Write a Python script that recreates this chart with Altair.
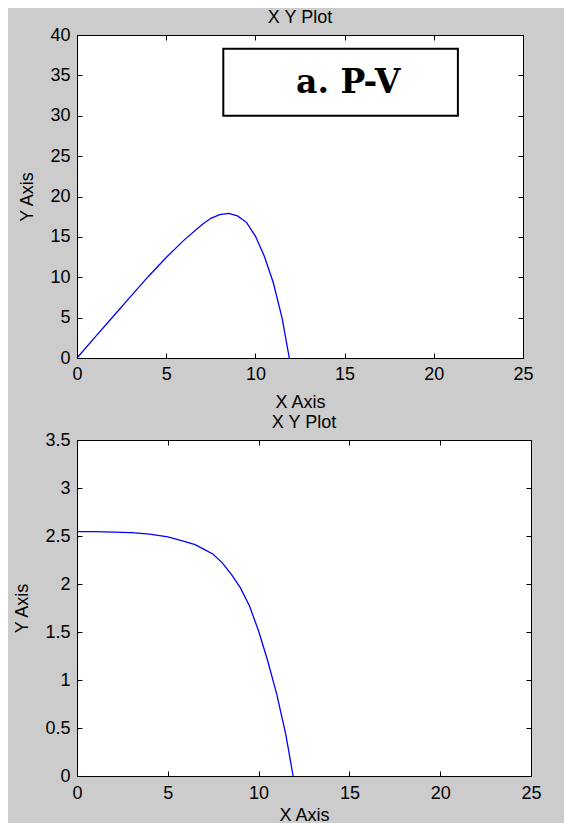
import altair as alt
import pandas as pd

# ---------------- data ----------------
x_ticks = [0, 5, 10, 15, 20, 25]
top_y_ticks = [0, 5, 10, 15, 20, 25, 30, 35, 40]
bot_y_ticks = [0, 0.5, 1, 1.5, 2, 2.5, 3, 3.5]

# Top panel: P-V curve
pv_v = [0, 1, 2, 3, 4, 5, 6, 7, 7.5, 8, 8.5, 9, 9.5, 10, 10.5, 11, 11.5, 11.9]
pv_p = [0, 2.55, 5.08, 7.6, 10.1, 12.45, 14.6, 16.5, 17.3, 17.75, 17.9, 17.6, 16.8, 15.1, 12.6, 9.35, 4.9, 0]

# Bottom panel: I-V curve
iv_v = [0, 1, 2, 3, 4, 5, 5.5, 6, 6.5, 7, 7.5, 8, 8.5, 9, 9.5, 10, 10.5, 11, 11.5, 11.9]
iv_i = [2.545, 2.545, 2.54, 2.535, 2.52, 2.49, 2.465, 2.44, 2.41, 2.36, 2.31, 2.22, 2.10, 1.96, 1.77, 1.51, 1.20, 0.85, 0.43, 0]

# Annotation box in the top panel
box_x1, box_x2 = [8.2], [21.35]
box_y1, box_y2 = [30.0], [38.3]
label_text = ["a. P-V"]
label_x, label_y = [15.2], [34.0]

titles = ["X Y Plot", "X Y Plot"]

df_pv = pd.DataFrame({"x": pv_v, "y": pv_p})
df_iv = pd.DataFrame({"x": iv_v, "y": iv_i})
df_box = pd.DataFrame({"x1": box_x1, "x2": box_x2, "y1": box_y1, "y2": box_y2})
df_lab = pd.DataFrame({"t": label_text, "x": label_x, "y": label_y})

FONT = "Liberation Sans"
FS = 18
W1, H1 = 446, 323
W2, H2 = 454, 336


def panel(df, yticks, W, H, lab_pad_x, title_pad_x, title, extra=()):
    xs = alt.Scale(domain=[0, 25], nice=False, zero=False)
    ys = alt.Scale(domain=[yticks[0], yticks[-1]], nice=False, zero=False)
    base = alt.Chart(df)
    main = base.mark_line(color="#0000ff", strokeWidth=1.3).encode(
        x=alt.X("x:Q", scale=xs, axis=alt.Axis(
            orient="bottom", values=x_ticks, format="~g", ticks=False, grid=False,
            domainColor="black", labelFont=FONT, labelFontSize=FS, labelColor="black",
            labelPadding=lab_pad_x, labelFlush=False, title="X Axis", titleFont=FONT,
            titleFontSize=FS, titleFontWeight="normal", titleColor="black",
            titlePadding=title_pad_x)),
        y=alt.Y("y:Q", scale=ys, axis=alt.Axis(
            orient="left", values=yticks, format="~g", ticks=False, grid=False,
            domainColor="black", labelFont=FONT, labelFontSize=FS, labelColor="black",
            labelPadding=7, labelFlush=False, title="Y Axis", titleFont=FONT,
            titleFontSize=FS, titleFontWeight="normal", titleColor="black",
            titlePadding=13)),
    )
    ticks_a = base.mark_line(opacity=0).encode(
        x=alt.X("x:Q", scale=xs, axis=alt.Axis(
            orient="top", offset=-H, values=x_ticks, labels=False, domain=False,
            grid=False, tickSize=5, tickColor="black", title="")),
        y=alt.Y("y:Q", scale=ys, axis=alt.Axis(
            orient="right", offset=-W, values=yticks, labels=False, domain=False,
            grid=False, tickSize=5, tickColor="black", title="")),
    )
    ticks_b = base.mark_line(opacity=0).encode(
        x=alt.X("x:Q", scale=xs, axis=alt.Axis(
            orient="bottom", offset=-H, values=x_ticks, labels=False, domain=False,
            grid=False, tickSize=5, tickColor="black", title="")),
        y=alt.Y("y:Q", scale=ys, axis=alt.Axis(
            orient="left", offset=-W, values=yticks, labels=False, domain=False,
            grid=False, tickSize=5, tickColor="black", title="")),
    )
    layers = [main, ticks_a, ticks_b]
    for mk in extra:
        layers.append(mk(xs, ys))
    return alt.layer(*layers).resolve_axis(x="independent", y="independent").properties(
        width=W, height=H,
        title=alt.Title(title, font=FONT, fontSize=FS, fontWeight="normal",
                        color="black", offset=-1, anchor="middle", frame="group"),
    )


def box_layer(xs, ys):
    return alt.Chart(df_box).mark_rect(fill="white", stroke="black", strokeWidth=2).encode(
        x=alt.X("x1:Q", scale=xs, axis=None), x2="x2:Q",
        y=alt.Y("y1:Q", scale=ys, axis=None), y2="y2:Q",
    )


def text_layer(xs, ys):
    return alt.Chart(df_lab).mark_text(
        font="DejaVu Serif", fontWeight="bold", fontSize=33, color="black",
        align="center", baseline="middle",
    ).encode(
        x=alt.X("x:Q", scale=xs, axis=None),
        y=alt.Y("y:Q", scale=ys, axis=None),
        text="t:N",
    )


top = panel(df_pv, top_y_ticks, W1, H1, 7.5, 9.5, titles[0], extra=(box_layer, text_layer))
bottom = panel(df_iv, bot_y_ticks, W2, H2, 8, 4, titles[1])

chart = alt.vconcat(top, bottom, spacing=1).properties(
    background="#cccccc",
    padding={"left": 5, "top": 0, "right": 22, "bottom": 0},
).configure_view(stroke="black", strokeWidth=1, fill="white")

chart.save("out.html", embed_options={"renderer": "svg", "actions": False})
